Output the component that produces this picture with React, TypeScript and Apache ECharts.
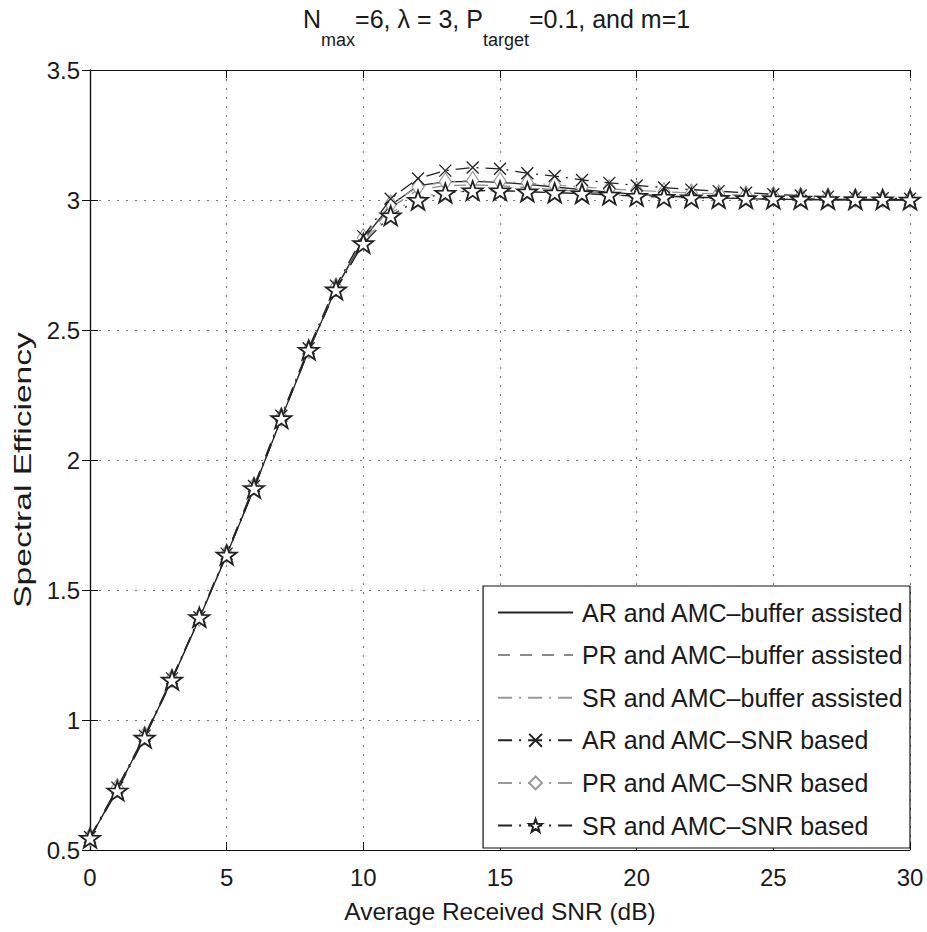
import React, { useEffect, useRef } from "react";
import * as echarts from "echarts";

const snr = [0,1,2,3,4,5,6,7,8,9,10,11,12,13,14,15,16,17,18,19,20,21,22,23,24,25,26,27,28,29,30];

const arBuffer = [0.545,0.735,0.935,1.155,1.39,1.635,1.89,2.16,2.42,2.66,2.85,2.98,3.055,3.07,3.072,3.068,3.06,3.05,3.04,3.03,3.022,3.016,3.012,3.008,3.005,3.003,3.002,3.001,3.0,3.0,3.0];
const prBuffer = [0.545,0.735,0.935,1.155,1.39,1.635,1.89,2.16,2.42,2.66,2.845,2.97,3.04,3.055,3.058,3.055,3.048,3.04,3.032,3.025,3.018,3.013,3.01,3.007,3.005,3.003,3.002,3.001,3.0,3.0,3.0];
const srBuffer = [0.545,0.735,0.935,1.155,1.39,1.635,1.89,2.16,2.42,2.655,2.84,2.95,3.01,3.03,3.035,3.035,3.032,3.028,3.024,3.019,3.015,3.011,3.008,3.006,3.004,3.003,3.002,3.001,3.0,3.0,3.0];
const arSnr = [0.55,0.74,0.94,1.16,1.395,1.64,1.9,2.17,2.43,2.67,2.86,3.005,3.083,3.113,3.125,3.12,3.103,3.092,3.077,3.066,3.056,3.048,3.04,3.034,3.028,3.022,3.017,3.013,3.01,3.007,3.005];
const prSnr = [0.55,0.74,0.94,1.16,1.395,1.64,1.9,2.165,2.425,2.665,2.855,2.985,3.05,3.07,3.075,3.072,3.066,3.058,3.05,3.043,3.037,3.032,3.027,3.023,3.019,3.016,3.013,3.01,3.008,3.006,3.005];
const srSnr = [0.546,0.728,0.931,1.154,1.395,1.635,1.891,2.16,2.423,2.655,2.833,2.94,3.0,3.027,3.036,3.036,3.032,3.028,3.025,3.02,3.015,3.011,3.009,3.007,3.006,3.005,3.004,3.003,3.002,3.002,3.001];

const seriesNames = [
  "AR and AMC–buffer assisted",
  "PR and AMC–buffer assisted",
  "SR and AMC–buffer assisted",
  "AR and AMC–SNR based",
  "PR and AMC–SNR based",
  "SR and AMC–SNR based",
];

// title pieces: [text, isSubscript]
const titleParts: [string, boolean][] = [
  ["N", false],
  ["max", true],
  ["=6, λ = 3, P", false],
  ["target", true],
  ["=0.1, and m=1", false],
];

const yTicks = [0.5, 1, 1.5, 2, 2.5, 3, 3.5];

const STAR =
  "path://M0,-10 L2.35,-3.24 L9.51,-3.09 L3.80,1.24 L5.88,8.09 L0,4 L-5.88,8.09 L-3.80,1.24 L-9.51,-3.09 L-2.35,-3.24 Z";
const CROSS = "path://M0,0L10,10M10,0L0,10";

const FONT = "Liberation Sans, Arial, sans-serif";
const TXT = "#1a1a1a";

function pairs(vals: number[]) {
  return snr.map((x, i) => [x, vals[i]]);
}

export default function App() {
  const ref = useRef<HTMLDivElement>(null);
  useEffect(() => {
    if (!ref.current) return;
    const chart = echarts.init(ref.current, undefined, { renderer: "svg" });

    const canvas = document.createElement("canvas");
    const ctx = canvas.getContext("2d")!;
    const MAIN = 25;
    const SUB = 18;
    let cx = 303;
    const titleGraphics: any[] = titleParts.map(([t, sub]) => {
      const size = sub ? SUB : MAIN;
      ctx.font = `${size}px "Liberation Sans", Arial, sans-serif`;
      const w = ctx.measureText(t).width;
      const el = {
        type: "text",
        x: cx,
        y: sub ? 40 : 19,
        style: {
          text: t,
          fontFamily: FONT,
          fontSize: size,
          fill: TXT,
          align: "left",
          verticalAlign: "middle",
        },
      };
      cx += w;
      return el;
    });

    const axisCommon = {
      axisLine: { show: true, lineStyle: { color: "#111", width: 1.2 } },
      axisTick: { show: true, inside: true, length: 8, lineStyle: { color: "#111" } },
    };
    const option: any = {
      animation: false,
      backgroundColor: "#fff",
      graphic: [
        ...titleGraphics,
        {
          type: "text",
          x: 23,
          y: 470,
          rotation: Math.PI / 2,
          scaleX: 1.4,
          style: {
            text: "Spectral Efficiency",
            fontFamily: FONT,
            fontSize: 24,
            fill: TXT,
            align: "center",
            verticalAlign: "middle",
          },
        },
      ],
      grid: { left: 90, right: 17, top: 70, bottom: 82, show: false },
      legend: {
        orient: "vertical",
        right: 17,
        bottom: 84,
        backgroundColor: "#fff",
        borderColor: "#111",
        borderWidth: 1.2,
        padding: [14, 6, 10, 14],
        itemWidth: 75,
        itemHeight: 16,
        itemGap: 17.6,
        textStyle: { fontFamily: FONT, fontSize: 25, color: TXT, padding: [0, 0, 0, 4] },
        data: [
          { name: seriesNames[0], itemStyle: { opacity: 0 } },
          { name: seriesNames[1], itemStyle: { opacity: 0 } },
          { name: seriesNames[2], itemStyle: { opacity: 0 } },
          { name: seriesNames[3] },
          { name: seriesNames[4] },
          { name: seriesNames[5] },
        ],
      },
      xAxis: [
        {
          type: "value",
          min: 0,
          max: 30,
          interval: 5,
          position: "bottom",
          name: "Average Received SNR (dB)",
          nameLocation: "middle",
          nameGap: 49,
          nameTextStyle: { fontFamily: FONT, fontSize: 24.5, color: TXT },
          ...axisCommon,
          axisLabel: { fontFamily: FONT, fontSize: 24, color: TXT, margin: 15 },
          splitLine: { show: true, lineStyle: { type: [2, 7], color: "#777", width: 1 } },
        },
        {
          type: "value",
          min: 0,
          max: 30,
          interval: 5,
          position: "top",
          ...axisCommon,
          axisLabel: { show: false },
          splitLine: { show: false },
        },
      ],
      yAxis: [
        {
          type: "value",
          min: 0.5,
          max: 3.5,
          interval: 0.5,
          position: "left",
          ...axisCommon,
          axisLabel: {
            fontFamily: FONT,
            fontSize: 24,
            color: TXT,
            margin: 10,
            formatter: (v: number) => (yTicks.includes(v) ? String(v) : ""),
          },
          splitLine: { show: true, lineStyle: { type: [2, 7], color: "#777", width: 1 } },
        },
        {
          type: "value",
          min: 0.5,
          max: 3.5,
          interval: 0.5,
          position: "right",
          ...axisCommon,
          axisLabel: { show: false },
          splitLine: { show: false },
        },
      ],
      series: [
        {
          name: seriesNames[0],
          type: "line",
          data: pairs(arBuffer),
          symbol: "none",
          color: "#222",
          lineStyle: { color: "#222", width: 1.3, type: "solid" },
          z: 3,
        },
        {
          name: seriesNames[1],
          type: "line",
          data: pairs(prBuffer),
          symbol: "none",
          color: "#8a8a8a",
          lineStyle: { color: "#8a8a8a", width: 1.3, type: [12, 10] },
          z: 2,
        },
        {
          name: seriesNames[2],
          type: "line",
          data: pairs(srBuffer),
          symbol: "none",
          color: "#9a9a9a",
          lineStyle: { color: "#9a9a9a", width: 1.3, type: [14, 7, 2, 7] },
          z: 2,
        },
        {
          name: seriesNames[3],
          type: "line",
          data: pairs(arSnr),
          symbol: CROSS,
          symbolSize: 12,
          color: "#222",
          itemStyle: { color: "#222", borderColor: "#222", borderWidth: 1.3 },
          lineStyle: { color: "#222", width: 1.3, type: [14, 7, 2, 7] },
          z: 4,
        },
        {
          name: seriesNames[4],
          type: "line",
          data: pairs(prSnr),
          symbol: "diamond",
          symbolSize: [12, 18],
          color: "#9a9a9a",
          itemStyle: { color: "#fff", borderColor: "#9a9a9a", borderWidth: 1.2 },
          lineStyle: { color: "#9a9a9a", width: 1.3, type: [14, 7, 2, 7] },
          z: 3,
        },
        {
          name: seriesNames[5],
          type: "line",
          data: pairs(srSnr),
          symbol: STAR,
          symbolSize: 20,
          symbolKeepAspect: true,
          color: "#222",
          itemStyle: { color: "#fff", borderColor: "#222", borderWidth: 1.8 },
          lineStyle: { color: "#222", width: 1.3, type: [14, 7, 2, 7] },
          z: 5,
        },
      ],
    };
    chart.setOption(option);
    return () => chart.dispose();
  }, []);
  return (
    <div
      ref={ref}
      style={{ position: "absolute", left: 0, top: 0, width: 927, height: 932, background: "#fff" }}
    />
  );
}
